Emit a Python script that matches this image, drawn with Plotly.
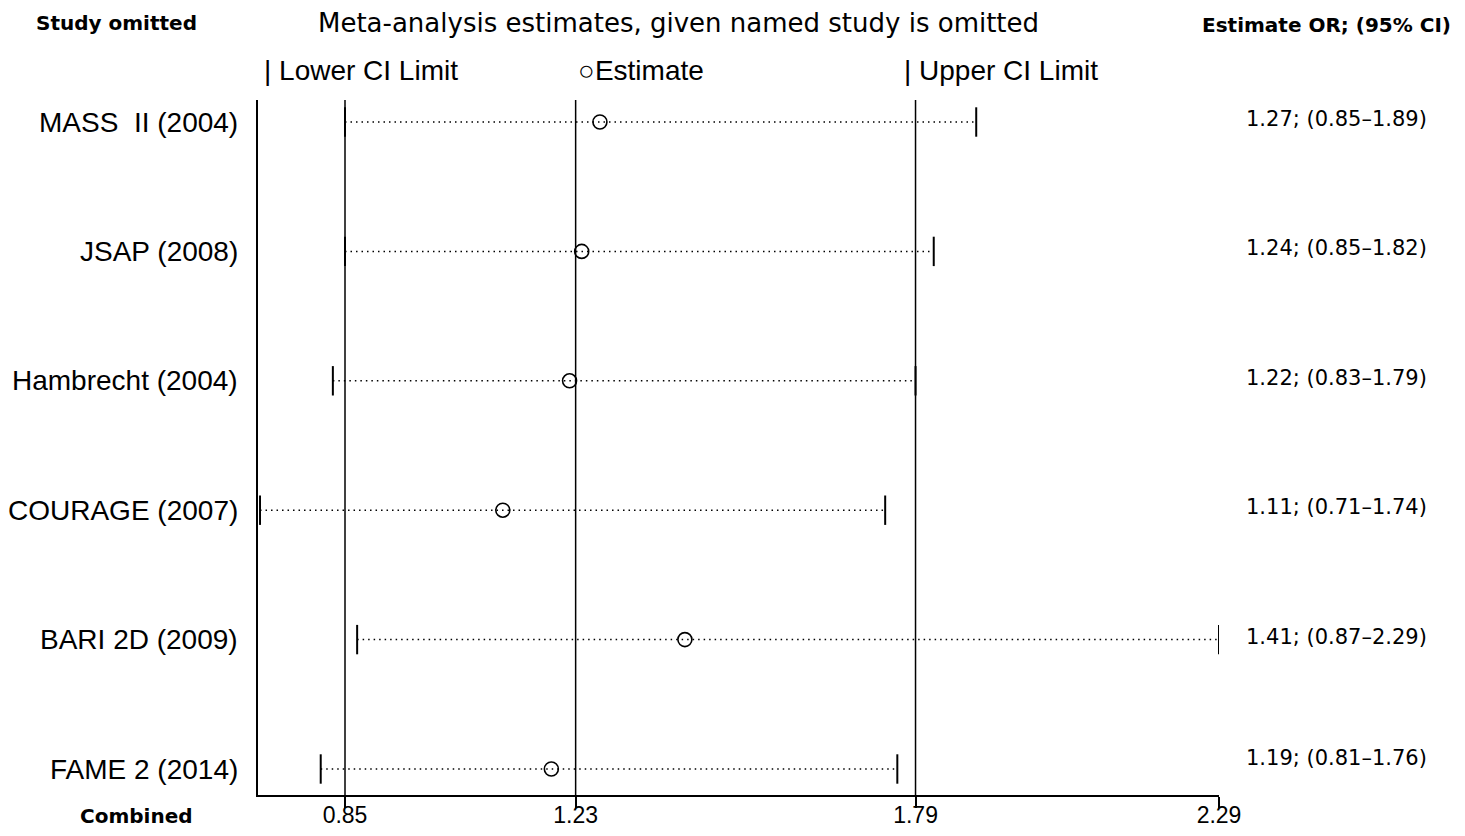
import plotly.graph_objects as go

studies = ["MASS\u00a0\u00a0II (2004)", "JSAP (2008)", "Hambrecht (2004)",
           "COURAGE (2007)", "BARI 2D (2009)", "FAME 2 (2014)"]
estimate = [1.27, 1.24, 1.22, 1.11, 1.41, 1.19]
lower = [0.85, 0.85, 0.83, 0.71, 0.87, 0.81]
upper = [1.89, 1.82, 1.79, 1.74, 2.29, 1.76]
tick_vals = [0.85, 1.23, 1.79, 2.29]
tick_text = ["0.85", "1.23", "1.79", "2.29"]
ref_lines = [0.85, 1.23, 1.79]

# page body has an 8px margin; size the figure so it fits the 1465x836 window
OFF = 8
Wf, Hf = 1465 - 2 * OFF, 836 - 2 * OFF
# plot-area edges in screen pixels
L, R, T, B = 258, 1219, 100, 795
n = len(studies)
ypos = list(range(n, 0, -1))  # top row = n

def px(x):
    return (x - L) / (R - L)

def py(y):
    return (B - y) / (B - T)

fig = go.Figure()

# dotted CI lines
for i in range(n):
    fig.add_trace(go.Scatter(
        x=[lower[i], upper[i]], y=[ypos[i], ypos[i]], mode="lines",
        line=dict(color="black", width=1.5, dash="1.5px,4px"),
        hoverinfo="skip", showlegend=False))

# CI limits
fig.add_trace(go.Scatter(
    x=lower + upper, y=ypos + ypos, mode="markers",
    marker=dict(symbol="line-ns", size=21, line=dict(color="black", width=2)),
    showlegend=False))

# estimates
fig.add_trace(go.Scatter(
    x=estimate, y=ypos, mode="markers",
    marker=dict(symbol="circle-open", size=14, color="black",
                line=dict(color="black", width=1.6)),
    showlegend=False))

# vertical reference lines
for v in ref_lines:
    fig.add_shape(type="line", xref="x", yref="paper", x0=v, x1=v, y0=0, y1=1,
                  line=dict(color="black", width=1.5))

ann = []
label_font = dict(family="Liberation Sans, Arial", size=28, color="black")
for i in range(n):
    ann.append(dict(xref="paper", yref="y", x=px(240), y=ypos[i], text=studies[i],
                    xanchor="right", yanchor="middle", showarrow=False, font=label_font))
    txt = f"{estimate[i]:.2f}; ({lower[i]:.2f}\u2013{upper[i]:.2f})"
    shift = 3 if i < n - 1 else 11
    ann.append(dict(xref="paper", yref="y", x=px(1336), y=ypos[i], yshift=shift, text=txt,
                    xanchor="center", yanchor="middle", showarrow=False,
                    font=dict(family="DejaVu Sans", size=21, color="black")))

bold = dict(family="DejaVu Sans", size=20, color="black")
ann += [
    dict(xref="paper", yref="paper", x=px(116), y=py(23), text="<b>Study omitted</b>",
         xanchor="center", yanchor="middle", showarrow=False, font=bold),
    dict(xref="paper", yref="paper", x=px(678), y=py(23),
         text="Meta-analysis estimates, given named study is omitted",
         xanchor="center", yanchor="middle", showarrow=False,
         font=dict(family="DejaVu Sans", size=26, color="black")),
    dict(xref="paper", yref="paper", x=px(1326), y=py(25), text="<b>Estimate OR; (95% CI)</b>",
         xanchor="center", yanchor="middle", showarrow=False, font=bold),
    dict(xref="paper", yref="paper", x=px(136), y=py(816), text="<b>Combined</b>",
         xanchor="center", yanchor="middle", showarrow=False, font=bold),
    dict(xref="paper", yref="paper", x=px(262), y=py(70), text="| Lower CI Limit",
         xanchor="left", yanchor="middle", showarrow=False, font=label_font),
    dict(xref="paper", yref="paper", x=px(576), y=py(70), text="\u25cbEstimate",
         xanchor="left", yanchor="middle", showarrow=False, font=label_font),
    dict(xref="paper", yref="paper", x=px(902), y=py(70), text="| Upper CI Limit",
         xanchor="left", yanchor="middle", showarrow=False, font=label_font),
]

px_per = (R - 345) / (2.29 - 0.85)
x_lo = 0.85 - (345 - L) / px_per
y_step = (769 - 122) / (n - 1)
y_lo = 1 - (B - 769) / y_step
y_hi = n + (122 - T) / y_step

fig.update_layout(
    width=Wf, height=Hf,
    margin=dict(l=L - OFF, r=(OFF + Wf) - R, t=T - OFF, b=(OFF + Hf) - B, autoexpand=False),
    paper_bgcolor="white", plot_bgcolor="white",
    annotations=ann, showlegend=False,
    xaxis=dict(range=[x_lo, 2.29], tickvals=tick_vals, ticktext=tick_text,
               showgrid=False, zeroline=False, showline=True, linecolor="black",
               linewidth=1.5, ticks="outside", ticklen=11, tickwidth=1.5,
               tickcolor="black", automargin=False, ticklabelstandoff=-12,
               tickfont=dict(family="Liberation Sans, Arial", size=23, color="black")),
    yaxis=dict(range=[y_lo, y_hi], showgrid=False, zeroline=False, showline=True,
               linecolor="black", linewidth=1.5, showticklabels=False, ticks="",
               automargin=False),
)

fig.write_html("out.html")
